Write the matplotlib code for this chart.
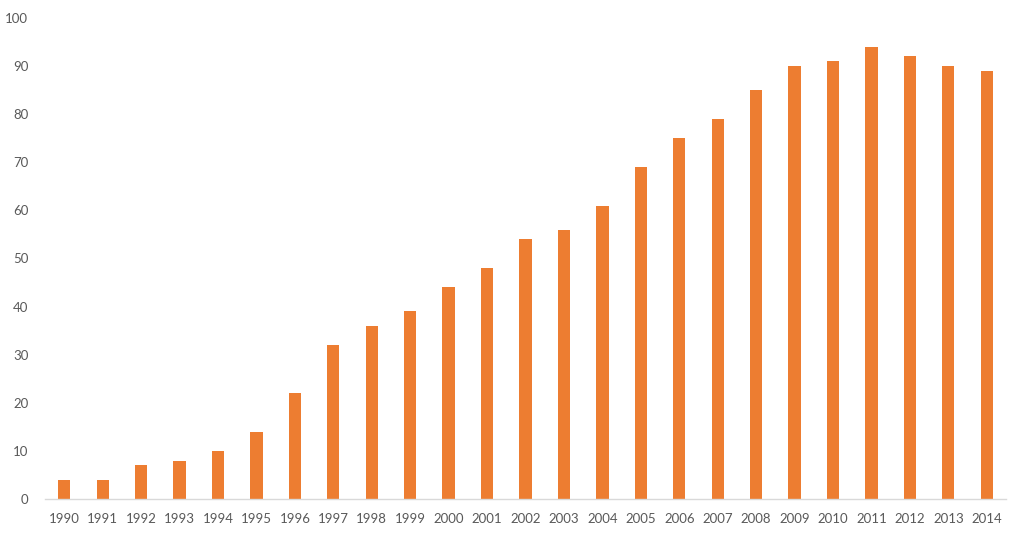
import matplotlib
matplotlib.use('Agg')
import matplotlib.pyplot as plt
import numpy as np

years = [str(y) for y in range(1990, 2015)]
values = [4, 4, 7, 8, 10, 14, 22, 32, 36, 39, 44, 48, 54, 56, 61,
          69, 75, 79, 85, 90, 91, 94, 92, 90, 89]

plt.rcParams['font.family'] = ['Lato', 'DejaVu Sans']

fig = plt.figure(figsize=(10.21, 5.35), dpi=100)
ax = fig.add_axes([45/1021, 1 - 499/535, (1006-45)/1021, (499-18)/535])

x = np.arange(len(years))
ax.bar(x, values, width=0.32, color='#ED7D31', zorder=2)

ax.set_xlim(-0.5, len(years) - 0.5)
ax.set_ylim(0, 100)
ax.set_yticks(range(0, 101, 10))
ax.set_xticks(x)
ax.set_xticklabels(years)

for s in ['top', 'right', 'left']:
    ax.spines[s].set_visible(False)
ax.spines['bottom'].set_color('#D9D9D9')
ax.spines['bottom'].set_linewidth(1)
ax.tick_params(axis='both', length=0, colors='#595959', labelsize=9.5)
ax.tick_params(axis='x', pad=10)
ax.tick_params(axis='y', pad=12)

fig.savefig('out.png', dpi=100)
